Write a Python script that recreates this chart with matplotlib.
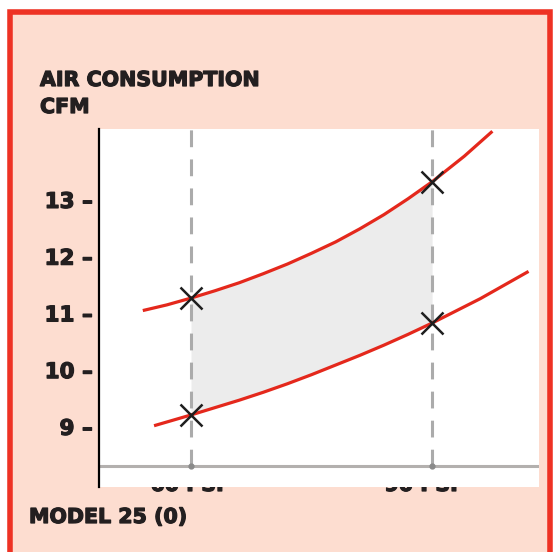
import matplotlib
matplotlib.use('Agg')
import matplotlib.pyplot as plt
import matplotlib.patheffects as pe
from matplotlib.patches import Rectangle

# values (pressure in PSI, air consumption in CFM)
upper_psi = [54, 57, 60, 63, 66, 69, 72, 75, 78, 81, 84, 87, 90, 94, 97.5]
upper_cfm = [11.05, 11.15, 11.27, 11.40, 11.54, 11.70, 11.87, 12.06, 12.26,
             12.49, 12.74, 13.02, 13.32, 13.77, 14.21]
lower_psi = [55.4, 60, 63, 66, 69, 72, 75, 78, 81, 84, 87, 90, 96, 102]
lower_cfm = [9.02, 9.21, 9.34, 9.47, 9.61, 9.76, 9.92, 10.09, 10.26,
             10.44, 10.63, 10.83, 11.26, 11.74]
marked_psi = [60, 90]
upper_marks = [11.27, 13.32]
lower_marks = [9.21, 10.83]
y_ticks = [9, 10, 11, 12, 13]
x_labels = ['60 PSI', '90 PSI']
title_lines = ['AIR CONSUMPTION', 'CFM']
footer = 'MODEL 25 (0)'

W, H = 553, 552
peach = '#FDDDD0'
red_border = '#EE3224'
curve_red = '#E4281C'
ink = '#231F20'
heavy = [pe.withStroke(linewidth=0.9, foreground=ink)]
font = dict(family='DejaVu Sans', weight='bold', color=ink, path_effects=heavy)

fig = plt.figure(figsize=(W / 100, H / 100), dpi=100)
fig.patch.set_facecolor('white')

# peach panel with red frame (bottom edge runs off the picture)
frame = Rectangle((9.7 / W, -0.05), (550 - 9.7) / W, (H - 12) / H + 0.05,
                  transform=fig.transFigure, facecolor=peach,
                  edgecolor=red_border, linewidth=4, zorder=-2)
fig.add_artist(frame)

# plot area in pixel coordinates
left, right, top, bottom = 99, 539, 129, 487
ax = fig.add_axes([left / W, (H - bottom) / H, (right - left) / W, (bottom - top) / H])
ax.set_facecolor('white')
ax.set_xlim(48.55, 103.3)
ax.set_ylim(7.94, 14.25)

for s in ['top', 'right', 'bottom']:
    ax.spines[s].set_visible(False)
ax.spines['left'].set_linewidth(1.6)
ax.spines['left'].set_color('black')

ax.set_xticks([])
ax.set_yticks(y_ticks, [f'{t} \u2013' for t in y_ticks])
ax.tick_params(axis='y', length=0, pad=4.5)
for lab in ax.get_yticklabels():
    lab.set_fontfamily('DejaVu Sans')
    lab.set_fontweight('bold')
    lab.set_fontsize(15.5)
    lab.set_color(ink)
    lab.set_path_effects(heavy)

# baseline and dashed guides
base_y = 8.31
ax.axhline(base_y, color='#B3B0AE', lw=2.2, zorder=2)
for p in marked_psi:
    ax.plot([p, p], [base_y, 14.25], color='#ABABAB', lw=2.2,
            dashes=(5.5, 4), zorder=2)
ax.plot(marked_psi, [base_y, base_y], 'o', color='#8A8A8A', ms=3.5, zorder=3)

# shaded band between the two curves
i0, i1 = upper_psi.index(60), upper_psi.index(90) + 1
j0, j1 = lower_psi.index(60), lower_psi.index(90) + 1
ax.fill_between(upper_psi[i0:i1], lower_cfm[j0:j1], upper_cfm[i0:i1],
                color='#ECECEC', lw=0, zorder=1)

ax.plot(upper_psi, upper_cfm, color=curve_red, lw=2.3, solid_capstyle='butt', zorder=4)
ax.plot(lower_psi, lower_cfm, color=curve_red, lw=2.3, solid_capstyle='butt', zorder=4)
ax.plot(marked_psi, upper_marks, 'x', color='#1E1E1E', ms=16, mew=1.8, zorder=5)
ax.plot(marked_psi, lower_marks, 'x', color='#1E1E1E', ms=16, mew=1.8, zorder=5)

# texts
fig.text(40 / W, 1 - 86 / H, title_lines[0], fontsize=14.8, va='baseline', **font)
fig.text(40 / W, 1 - 113 / H, title_lines[1], fontsize=14.8, va='baseline', **font)
fig.text(29 / W, 1 - 523 / H, footer, fontsize=14.8, va='baseline', **font)
# PSI labels sit partly hidden behind the plot area
for px, lab in zip([187, 421], x_labels):
    fig.text(px / W, 1 - 491 / H, lab, fontsize=14.8, ha='center', va='baseline',
             zorder=-1, **font)

fig.savefig('out.png', dpi=100)
